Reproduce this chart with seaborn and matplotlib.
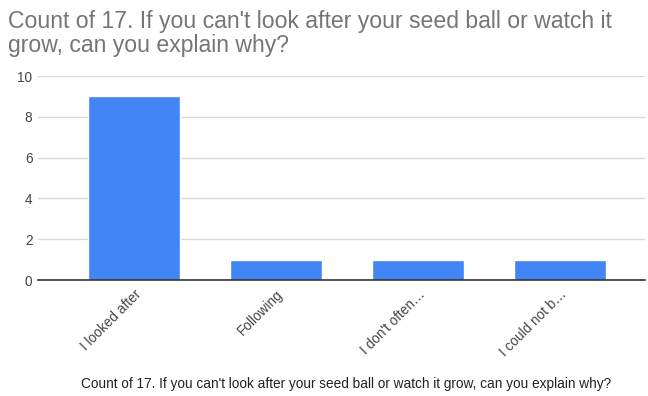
import matplotlib
matplotlib.use("Agg")
import matplotlib.pyplot as plt
import seaborn as sns
import pandas as pd

categories = ["I looked after", "Following", "I don't often…", "I could not b…"]
counts = [9, 1, 1, 1]
yticks = [0, 2, 4, 6, 8, 10]
title = "Count of 17. If you can't look after your seed ball or watch it\ngrow, can you explain why?"
xlabel = "Count of 17. If you can't look after your seed ball or watch it grow, can you explain why?"

sns.set_style("white")
plt.rcParams['font.family'] = ['Liberation Sans', 'DejaVu Sans']

df = pd.DataFrame({"cat": categories, "count": counts})
fig = plt.figure(figsize=(6.48, 3.96), dpi=100)
ax = fig.add_axes([38/648, 1 - 280/396, (645-38)/648, (280-76)/396])
sns.barplot(data=df, x="cat", y="count", color="#4285f4", saturation=1, width=0.65, ax=ax, zorder=3)
ax.set_xlim(-0.677, 3.60)
ax.set_ylim(0, 10)
ax.set_yticks(yticks)
ax.yaxis.grid(True, color="#d9d9d9", linewidth=1, zorder=0)
for s in ["top", "right", "left"]:
    ax.spines[s].set_visible(False)
ax.spines["bottom"].set_color("#333333")
ax.spines["bottom"].set_linewidth(1.2)
ax.spines["bottom"].set_zorder(4)
ax.tick_params(axis="both", length=0, labelsize=9.8, colors="#444444")
ax.tick_params(axis="y", pad=4)
ax.tick_params(axis="x", pad=5)
plt.setp(ax.get_xticklabels(), rotation=45, ha="right", rotation_mode="anchor")
ax.set_xlabel("")
ax.set_ylabel("")
fig.text(346/648, 1 - 384/396, xlabel, fontsize=9.8, color="#222222", va="center", ha="center")
fig.text(8/648, 1 - 10/396, title, fontsize=16.6, color="#757575", va="top", ha="left", linespacing=1.08)
fig.savefig("out.png", dpi=100)
